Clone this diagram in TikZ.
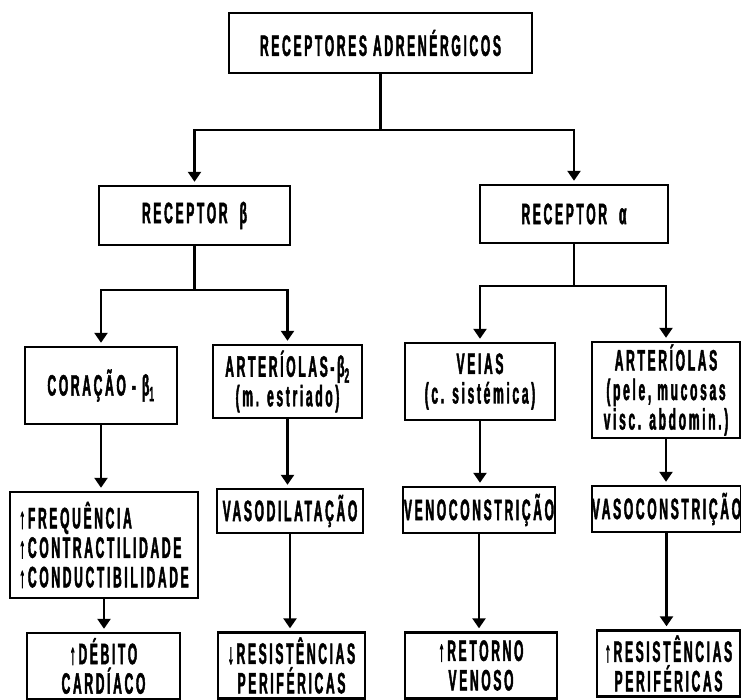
\documentclass[tikz,border=0pt]{standalone}
\usepackage{fontspec}
\newfontfamily\chartfont{Liberation Sans}[FakeStretch=0.41, LetterSpace=9, FakeBold=1.5]
\usetikzlibrary{arrows.meta}

\begin{document}
\begin{tikzpicture}[x=1pt, y=-1pt,
    box/.style={draw, line width=2.4pt, inner sep=0pt, align=center,
      font=\chartfont\bfseries\fontsize{29.5}{29.5}\selectfont},
    conn/.style={line width=2.4pt},
    flow/.style={conn, -{Triangle[width=13pt,length=10pt]}, shorten >=3pt}]
    \useasboundingbox (0,0) rectangle (741,700);

    % Top level
    \node[box, minimum width=303pt, minimum height=60pt] (adr) at (380.5,43) {RECEPTORES ADRENÉRGICOS};

    % Receptor types
    \node[box, minimum width=191pt, minimum height=59pt] (beta) at (194.5,215.5) {RECEPTOR\ \ β};
    \node[box, minimum width=188pt, minimum height=58pt] (alpha) at (574,214) {RECEPTOR\ \ α};

    % Target organs
    \node[box, minimum width=152pt, minimum height=77pt] (cor) at (101,385.5) {CORAÇÃO - β\textsubscript{1}};
    \node[box, minimum width=149pt, minimum height=73pt] (artb) at (287.5,381.5) {ARTERÍOLAS-β\textsubscript{2}\\(m. estriado)};
    \node[box, minimum width=150pt, minimum height=77pt] (veias) at (480,381.5) {VEIAS\\(c. sistémica)};
    \node[box, minimum width=148pt, minimum height=96pt] (arta) at (666,390) {ARTERÍOLAS\\(pele, mucosas\\ visc. abdomin.)};

    % Effects
    \node[box, align=left, minimum width=188pt, minimum height=106pt] (freq) at (104,545) {↑FREQUÊNCIA\\↑CONTRACTILIDADE\\↑CONDUCTIBILIDADE};
    \node[box, minimum width=146pt, minimum height=44pt] (vasod) at (290,511) {VASODILATAÇÃO};
    \node[box, minimum width=152pt, minimum height=46pt] (veno) at (479,510) {VENOCONSTRIÇÃO};
    \node[box, minimum width=147pt, minimum height=46pt] (vasoc) at (666.5,509) {VASOCONSTRIÇÃO};

    % Results
    \node[box, minimum width=153pt, minimum height=66pt] (deb) at (103.5,666) {↑DÉBITO\\CARDÍACO};
    \node[box, minimum width=147pt, minimum height=66pt] (resd) at (291.5,665.5) {↓RESISTÊNCIAS\\PERIFÉRICAS};
    \node[box, minimum width=152pt, minimum height=66pt] (ret) at (481,665.5) {↑RETORNO\\VENOSO};
    \node[box, minimum width=143pt, minimum height=66pt] (resa) at (668.5,663.5) {↑RESISTÊNCIAS\\PERIFÉRICAS};

    % Branches
    \draw[flow] (adr.south) -- ++(0,56) -| (beta.north);
    \draw[flow] (adr.south) -- ++(0,56) -| (alpha.north);
    \draw[flow] (beta.south) -- ++(0,44) -| (cor.north);
    \draw[flow] (beta.south) -- ++(0,44) -| (artb.north);
    \draw[flow] (alpha.south) -- ++(0,42) -| (veias.north);
    \draw[flow] (alpha.south) -- ++(0,42) -| (arta.north);

    % Chains
    \draw[flow] (cor.south) -- (cor.south |- freq.north);
    \draw[flow] (artb.south) -- (artb.south |- vasod.north);
    \draw[flow] (veias.south) -- (veias.south |- veno.north);
    \draw[flow] (arta.south) -- (arta.south |- vasoc.north);
    \draw[flow] (freq.south) -- (freq.south |- deb.north);
    \draw[flow] (vasod.south) -- (vasod.south |- resd.north);
    \draw[flow] (veno.south) -- (veno.south |- ret.north);
    \draw[flow] (vasoc.south) -- (vasoc.south |- resa.north);
\end{tikzpicture}
\end{document}
